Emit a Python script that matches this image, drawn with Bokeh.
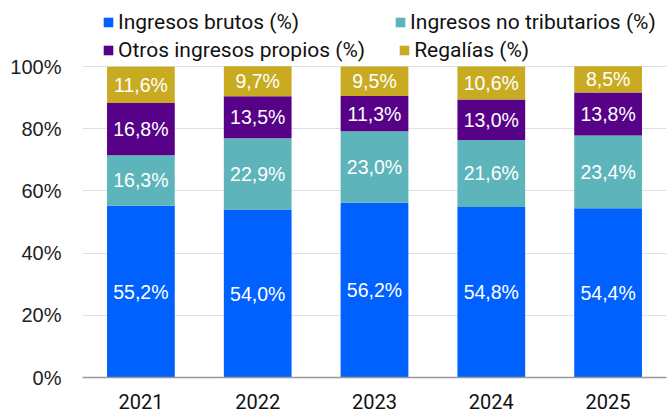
from bokeh.plotting import figure
from bokeh.models import Legend, FactorRange, ColumnDataSource, CustomJSTickFormatter, Range1d
from bokeh.core.properties import value
from bokeh.embed import file_html
from bokeh.resources import INLINE

years = ["2021", "2022", "2023", "2024", "2025"]
ingresos_brutos = [55.2, 54.0, 56.2, 54.8, 54.4]
no_tributarios = [16.3, 22.9, 23.0, 21.6, 23.4]
otros_propios = [16.8, 13.5, 11.3, 13.0, 13.8]
regalias = [11.6, 9.7, 9.5, 10.6, 8.5]
y_ticks = [0, 20, 40, 60, 80, 100]

series = ["brutos", "notrib", "otros", "regalias"]
labels = ["Ingresos brutos (%)", "Ingresos no tributarios (%)", "Otros ingresos propios (%)", "Regalías (%)"]
colors = ["#0061FE", "#5DB5BB", "#560187", "#C9AB22"]

data = dict(years=years, brutos=ingresos_brutos, notrib=no_tributarios, otros=otros_propios, regalias=regalias)
src = ColumnDataSource(data)

# layout (pixels)
W, H = 668, 415
bottom_border = 38
frame_h = H - bottom_border
top_gap = 66  # space above the 100% line used by the legend
y_end = 100 * frame_h / (frame_h - top_gap)

p = figure(x_range=FactorRange(*years), y_range=Range1d(0, y_end), width=W, height=H,
           output_backend="svg", toolbar_location=None, min_border_left=82, min_border_right=2,
           min_border_bottom=bottom_border, min_border_top=0)

renderers = p.vbar_stack(series, x="years", width=0.58, color=colors, source=src, line_color=None)

# segment labels
for i, s in enumerate(series):
    xs, ys, txt = [], [], []
    for j, y in enumerate(years):
        base = sum(data[series[k]][j] for k in range(i))
        v = data[s][j]
        xs.append(y)
        ys.append(base + v / 2)
        txt.append(f"{v:.1f}%".replace(".", ","))
    p.text(x=xs, y=ys, text=txt, text_color="white", text_align="center", text_baseline="middle",
           text_font=value("Liberation Sans"), text_font_size="19.5px")


def make_legend(idx, spacing, bottom_from_top):
    lg = Legend(items=[(labels[i], [renderers[i]]) for i in idx],
                location=(20, frame_h - bottom_from_top), orientation="horizontal")
    lg.label_text_font = "Roboto"
    lg.label_text_font_size = "21px"
    lg.label_text_color = "#111111"
    lg.glyph_width = 12
    lg.glyph_height = 12
    lg.label_standoff = 4
    lg.spacing = spacing
    lg.padding = 0
    lg.margin = 0
    lg.label_height = 22
    lg.border_line_color = None
    lg.background_fill_alpha = 0
    return lg


p.add_layout(make_legend([0, 1], 95, 34), "center")
p.add_layout(make_legend([2, 3], 33, 62), "center")

p.yaxis.ticker = y_ticks
p.yaxis.formatter = CustomJSTickFormatter(code="return tick + '%';")
p.yaxis.axis_line_color = None
p.yaxis.major_tick_line_color = None
p.yaxis.minor_tick_line_color = None
p.yaxis.major_label_text_font = "Liberation Sans"
p.yaxis.major_label_text_font_size = "20px"
p.yaxis.major_label_text_color = "#222222"
p.yaxis.major_label_standoff = 15

p.xaxis.axis_line_color = "#999999"
p.xaxis.axis_line_width = 1.5
p.xaxis.major_tick_line_color = None
p.xaxis.minor_tick_line_color = None
p.xaxis.major_label_text_font = "Roboto"
p.xaxis.major_label_text_font_size = "20px"
p.xaxis.major_label_text_color = "#111111"
p.xaxis.major_label_standoff = 10

p.xgrid.grid_line_color = None
p.ygrid.grid_line_color = "#E0E0E0"
p.ygrid.ticker = y_ticks
p.outline_line_color = None
p.x_range.range_padding = 0

open("out.html", "w").write(file_html(p, INLINE))
